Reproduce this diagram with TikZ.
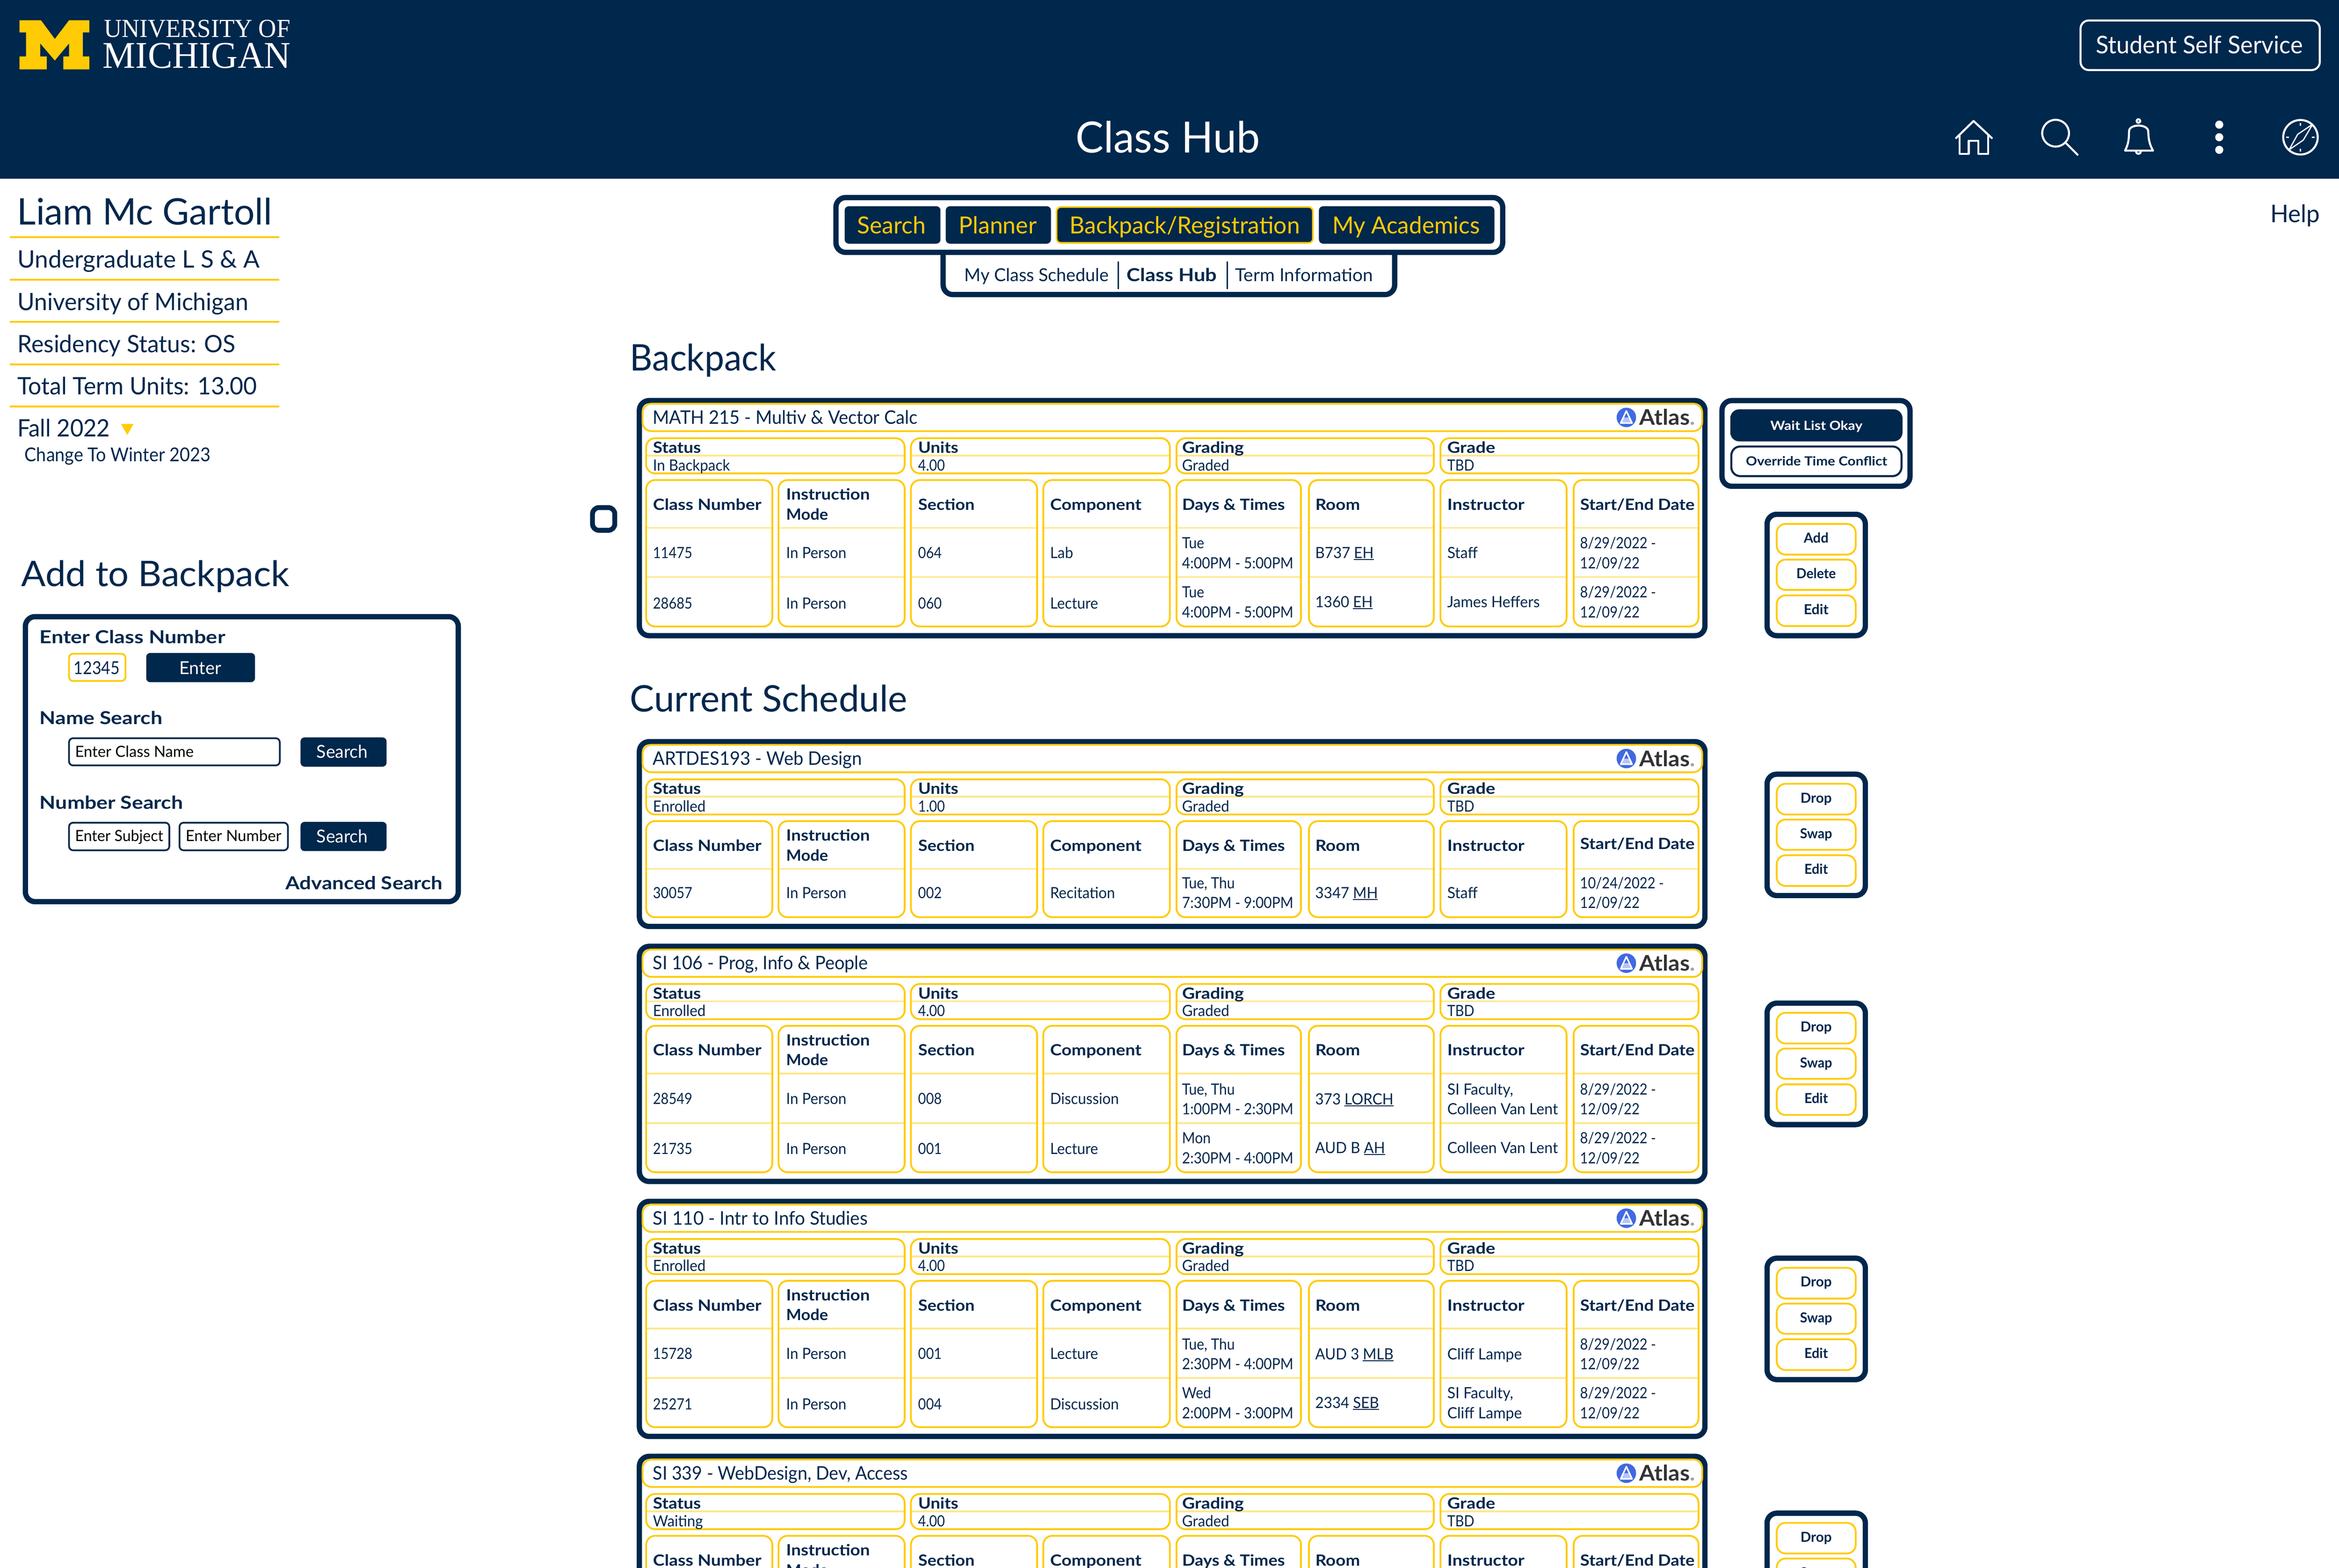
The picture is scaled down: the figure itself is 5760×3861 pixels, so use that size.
\documentclass[tikz,border=0pt]{standalone}
\usepackage{fontspec}
\usepackage{graphicx}
\setmainfont{Lato}
\newfontfamily\seriflogo{Liberation Serif}
\definecolor{navy}{HTML}{00274C}
\definecolor{maize}{HTML}{FFCB05}
\definecolor{palem}{HTML}{FFE78A}
\definecolor{atlasblue}{HTML}{4169E1}
\definecolor{atlaslight}{HTML}{B4C6F5}
\definecolor{atlasdark}{HTML}{333333}
\definecolor{atlasgrey}{HTML}{A0A4A8}
\newcount\nc
\newsavebox\fb
\newcommand\fitbox[3]{\sbox\fb{\fontsize{#2}{#2}\selectfont #3}\pgfmathparse{(#1*0.1)/(\wd\fb)}\edef\myr{\pgfmathresult}\scalebox{\myr}[1]{\usebox\fb}}
% x, y(baseline), width px, size pt, colour, text
\newcommand\FT[6]{\global\advance\nc by 1\relax\node[anchor=base west,inner sep=0pt,text=#5] (n\the\nc) at ({#1-0.5*#4},{#2}) {\fitbox{#3}{#4}{#6}};}
\def\cellx{0.88}
\def\cellw{0.95}
\def\cellt{0.91}
\def\cellsz{3.8}
\newcommand\DT[4][\cellx]{\global\advance\nc by 1\relax\node[anchor=base west,inner sep=0pt,text=navy] (n\the\nc) at ({#2-2},{#3}) {\fontsize{\cellsz}{\cellsz}\selectfont\scalebox{#1}[1]{#4}};}
\newcommand\ul[1]{\setbox0\hbox{#1}\rlap{\rule[-0.42pt]{\wd0}{0.24pt}}\box0}
\newcommand\yb[4]{\draw[ybox] ({#1+2.2},{#2+2.2}) rectangle ({#3-2.2},{#4-2.2});}
\newcommand\nb[4]{\draw[nbox] ({#1+6.5},{#2+6.5}) rectangle ({#3-6.5},{#4-6.5});}
\def\sdoff{0}
\newcommand\cardframe[3]{%
  \nb{1568}{#1}{4205}{#1+#2}
  \yb{1580}{#1+12}{4194}{#1+84}
  \foreach \a/\b in {1589/2230,2241/2883,2895/3533,3545/4185}{
    \draw[dvline] (\a+3,{#1+142}) -- (\b-3,{#1+142});
    \yb{\a}{#1+97}{\b}{#1+188}
  }
  \foreach \a/\b in {1589/1904,1915/2230,2241/2556,2567/2883,2895/3206,3221/3533,3545/3860,3873/4185}{
    \foreach \d in {#3}{\draw[dvline] (\a+3,{#1+\d}) -- (\b-3,{#1+\d});}
    \yb{\a}{#1+200}{\b}{#1+#2-27}
  }
  % atlas mark
  \fill[atlasblue] (4005,{#1+48}) circle (2.4pt);
  \fill[atlaslight] (3993,{#1+61}) -- (4017,{#1+61}) -- (4011,{#1+48}) -- (3999,{#1+48}) -- cycle;
  \draw[white,line width=0.38pt,line join=round] (4005,{#1+32}) -- (3991,{#1+62}) -- (4019,{#1+62}) -- cycle;
  \FT{4038}{#1+67}{137}{5.3}{atlasdark}{\bfseries Atlas\textcolor{atlasgrey}{.}}
}
\newcommand\cardhead[7]{%
  \FT{1608}{#1+64}{#3}{4.6}{navy}{#2}
  \FT{1608}{#1+136}{118}{3.8}{navy}{\bfseries Status}
  \FT{2261}{#1+136}{99}{3.8}{navy}{\bfseries Units}
  \FT{2911}{#1+136}{152}{3.8}{navy}{\bfseries Grading}
  \FT{3564}{#1+136}{118}{3.8}{navy}{\bfseries Grade}
  \DT[\cellw]{1608}{#1+179}{#4}
  \DT{2261}{#1+179}{#5}
  \DT[\cellw]{2911}{#1+179}{#6}
  \DT{3564}{#1+179}{#7}
  \FT{1608}{#1+276}{267}{3.8}{navy}{\bfseries Class Number}
  \FT{1936}{#1+251}{206}{3.8}{navy}{\bfseries Instruction}
  \FT{1936}{#1+300}{103}{3.8}{navy}{\bfseries Mode}
  \FT{2261}{#1+276}{139}{3.8}{navy}{\bfseries Section}
  \FT{2586}{#1+276}{225}{3.8}{navy}{\bfseries Component}
  \FT{2911}{#1+276}{253}{3.8}{navy}{\bfseries Days \& Times}
  \FT{3239}{#1+276}{110}{3.8}{navy}{\bfseries Room}
  \FT{3564}{#1+276}{190}{3.8}{navy}{\bfseries Instructor}
  \FT{3891}{#1+276+\sdoff}{282}{3.8}{navy}{\bfseries Start/End Date}
}
\newcommand\rowA[5]{%
  \DT{1608}{#1}{#2}
  \DT[\cellw]{1936}{#1}{#3}
  \DT{2261}{#1}{#4}
  \DT[\cellw]{2586}{#1}{#5}
}
% Y, days1, days2, room, building, instr1, instr2, date1, date2
\newcommand\rowB[9]{%
  \DT[\cellt]{2911}{#1-24}{#2}
  \DT[\cellt]{2911}{#1+25}{#3}
  \DT[\cellw]{3239}{#1}{#4 \ul{#5}}
  \if\relax\detokenize{#7}\relax
    \DT[0.97]{3564}{#1}{#6}
  \else
    \DT[0.97]{3564}{#1-24}{#6}
    \DT[0.97]{3564}{#1+25}{#7}
  \fi
  \DT{3891}{#1-24}{#8}
  \DT{3891}{#1+25}{#9}
}
\newcommand\sidebox[7]{%
  \nb{4345}{#1}{4600}{#1+312}
  \yb{4373}{#1+28}{4572}{#1+108}
  \yb{4373}{#1+116}{4572}{#1+195}
  \yb{4373}{#1+204}{4572}{#1+284}
  \FT{4472-#3/2}{#1+77}{#3}{3.4}{navy}{\bfseries #2}
  \FT{4472-#5/2}{#1+165}{#5}{3.4}{navy}{\bfseries #4}
  \FT{4472-#7/2}{#1+253}{#7}{3.4}{navy}{\bfseries #6}
}
\tikzset{
  ybox/.style={draw=maize,line width=0.44pt,rounded corners=2.2pt},
  nbox/.style={draw=navy,line width=1.3pt,rounded corners=2.4pt,fill=white},
  dvline/.style={draw=palem,line width=0.42pt},
  leftrule/.style={draw=maize,line width=0.45pt},
  navybtn/.style={fill=navy,rounded corners=1pt},
  inputbox/.style={draw=navy,line width=0.42pt,rounded corners=1pt},
  iconline/.style={draw=white,line width=0.5pt,line join=round,line cap=round}
}
\begin{document}
\begin{tikzpicture}[x=0.1pt,y=-0.1pt]
\path[use as bounding box,clip] (0,0) rectangle (5760,3861);
\fill[white] (0,0) rectangle (5760,3861);
% header
\fill[navy] (0,0) rectangle (5760,440);
\fill[maize] (48,50) -- (101,50) -- (135,96) -- (170,50) -- (220,50) -- (220,80) -- (204,80) -- (204,139) -- (220,139) -- (220,171) -- (156,171) -- (156,139) -- (170,139) -- (170,107) -- (135,149) -- (99,107) -- (99,139) -- (115,139) -- (115,171) -- (48,171) -- (48,139) -- (64,139) -- (64,80) -- (48,80) -- cycle;
\FT{257}{92}{459}{6.4}{white}{\seriflogo UNIVERSITY OF}
\FT{256}{168}{463}{9.3}{white}{\seriflogo MICHIGAN}
\FT{2652}{376}{454}{10.6}{white}{Class Hub}
\draw[draw=white,line width=0.5pt,rounded corners=2pt] (5123.5,50.5) rectangle (5712.5,172.5);
\FT{5162}{132}{510}{6}{white}{Student Self Service}
% header icons
\draw[iconline] (4817,340) -- (4860,298) -- (4905,340);
\draw[iconline] (4826,332) -- (4826,379) -- (4848,379) -- (4848,347) -- (4872,347) -- (4872,379) -- (4896,379) -- (4896,332);
\draw[iconline] (5062,328) circle (3.3pt);
\draw[iconline] (5088,353) -- (5116,381);
\draw[iconline] (5266,298) circle (0.45pt);
\draw[iconline] (5233,371) .. controls (5244,350) and (5242,335) .. (5243,322) .. controls (5245,305) and (5287,305) .. (5290,322) .. controls (5291,335) and (5290,350) .. (5302,371) -- cycle;
\draw[iconline] (5260,373) arc (180:360:0.6pt);
\fill[white] (5465,307) circle (1pt);
\fill[white] (5465,338) circle (1pt);
\fill[white] (5465,369) circle (1pt);
\draw[iconline] (5665,338) circle (4.25pt);
\draw[draw=white,line width=0.3pt,line join=round] (5695,306) -- (5672,345) -- (5637,369) -- (5658,331) -- cycle;
\draw[draw=white,line width=0.4pt] (5665,303) -- (5665,310) (5665,366) -- (5665,373) (5630,338) -- (5637,338) (5693,338) -- (5700,338);
% left column
\FT{45}{553}{627}{9}{navy}{Liam Mc Gartoll}
\FT{44}{660}{596}{5.9}{navy}{Undergraduate L S \& A}
\FT{44}{764}{569}{5.9}{navy}{University of Michigan}
\FT{44}{868}{537}{5.9}{navy}{Residency Status: OS}
\FT{44}{972}{590}{5.9}{navy}{Total Term Units: 13.00}
\FT{44}{1075}{228}{5.9}{navy}{Fall 2022}
\fill[maize] (298,1044) -- (329,1044) -- (313.5,1071) -- cycle;
\FT{61}{1136}{458}{4.7}{navy}{Change To Winter 2023}
\foreach \yy in {584,689,793,897,1001}{\draw[leftrule] (24,\yy) -- (688,\yy);}
% add to backpack
\FT{55}{1444}{660}{8.7}{navy}{Add to Backpack}
\nb{56}{1512}{1135}{2227}
\FT{98}{1584}{457}{4.4}{navy}{\bfseries Enter Class Number}
\draw[ybox,rounded corners=1pt] (170,1610) rectangle (309,1677);
\FT{182}{1661}{113}{4.4}{navy}{12345}
\fill[navybtn] (360,1608) rectangle (628,1680);
\FT{442}{1661}{103}{4.4}{white}{Enter}
\FT{98}{1784}{302}{4.4}{navy}{\bfseries Name Search}
\draw[inputbox] (170,1818) rectangle (689,1885);
\FT{185}{1864}{292}{3.8}{black}{Enter Class Name}
\fill[navybtn] (740,1816) rectangle (952,1888);
\FT{780}{1867}{126}{4.4}{white}{Search}
\FT{98}{1992}{353}{4.4}{navy}{\bfseries Number Search}
\draw[inputbox] (170,2026) rectangle (417,2094);
\FT{185}{2072}{217}{3.8}{black}{Enter Subject}
\draw[inputbox] (442,2026) rectangle (709,2094);
\FT{457}{2072}{236}{3.8}{black}{Enter Number}
\fill[navybtn] (740,2024) rectangle (952,2096);
\FT{780}{2075}{126}{4.4}{white}{Search}
\FT{704}{2190}{386}{4.4}{navy}{\bfseries Advanced Search}
% tabs
\nb{2316}{590}{3441}{732}
\nb{2052}{480}{3707}{628}
\fill[navybtn] (2080,508) rectangle (2316,600);
\FT{2112}{575}{169}{5.8}{maize}{Search}
\fill[navybtn] (2329,508) rectangle (2588,600);
\FT{2362}{575}{192}{5.8}{maize}{Planner}
\draw[fill=navy,draw=maize,line width=0.4pt,rounded corners=1pt] (2602,510) rectangle (3233,598);
\FT{2635}{575}{567}{5.8}{maize}{Backpack/Registration}
\fill[navybtn] (3248,508) rectangle (3680,600);
\FT{3282}{575}{363}{5.8}{maize}{My Academics}
\FT{2375}{693}{356}{4.4}{navy}{My Class Schedule}
\draw[navy,line width=0.28pt] (2754,644) -- (2754,712);
\FT{2775}{693}{222}{4.4}{navy}{\bfseries Class Hub}
\draw[navy,line width=0.28pt] (3022,644) -- (3022,712);
\FT{3042}{693}{339}{4.4}{navy}{Term Information}
\FT{5592}{548}{122}{6}{navy}{Help}
% headings
\FT{1554}{913}{360}{9}{navy}{Backpack}
\FT{1554}{1753}{683}{9}{navy}{Current Schedule}
% backpack check box
\draw[draw=navy,line width=1.2pt,rounded corners=1.6pt] (1459,1250) rectangle (1514,1306);
% backpack side boxes
\nb{4234}{980}{4710}{1204}
\fill[navy,rounded corners=2.2pt] (4261,1008) rectangle (4685,1087);
\FT{4359}{1059}{227}{3.1}{white}{\bfseries Wait List Okay}
\draw[draw=navy,line width=0.5pt,rounded corners=2.2pt] (4263.5,1099.5) rectangle (4682.5,1172.5);
\FT{4299}{1147}{348}{3.1}{navy}{\bfseries Override Time Conflict}
\sidebox{1260}{Add}{61}{Delete}{97}{Edit}{61}
% backpack card
\cardframe{980}{592}{320,441}
\cardhead{980}{MATH 215 - Multiv \& Vector Calc}{652}{In Backpack}{4.00}{Graded}{TBD}
\rowA{1375}{11475}{In Person}{064}{Lab}
\rowB{1375}{Tue}{4:00PM - 5:00PM}{B737}{EH}{Staff}{}{8/29/2022 -}{12/09/22}
\rowA{1499}{28685}{In Person}{060}{Lecture}
\rowB{1496}{Tue}{4:00PM - 5:00PM}{1360}{EH}{James Heffers}{}{8/29/2022 -}{12/09/22}
% ARTDES
\def\sdoff{-5}
\cardframe{1820}{468}{320}
\cardhead{1820}{ARTDES193 - Web Design}{515}{Enrolled}{1.00}{Graded}{TBD}
\def\sdoff{0}
\rowA{2212}{30057}{In Person}{002}{Recitation}
\rowB{2212}{Tue, Thu}{7:30PM - 9:00PM}{3347}{MH}{Staff}{}{10/24/2022 -}{12/09/22}
\sidebox{1900}{Drop}{77}{Swap}{79}{Edit}{58}
% SI 106
\cardframe{2324}{592}{320,442}
\cardhead{2324}{SI 106 - Prog, Info \& People}{530}{Enrolled}{4.00}{Graded}{TBD}
\rowA{2719}{28549}{In Person}{008}{Discussion}
\rowB{2720}{Tue, Thu}{1:00PM - 2:30PM}{373}{LORCH}{SI Faculty,}{Colleen Van Lent}{8/29/2022 -}{12/09/22}
\rowA{2843}{21735}{In Person}{001}{Lecture}
\rowB{2840}{Mon}{2:30PM - 4:00PM}{AUD B}{AH}{Colleen Van Lent}{}{8/29/2022 -}{12/09/22}
\sidebox{2464}{Drop}{77}{Swap}{79}{Edit}{58}
% SI 110
\cardframe{2952}{592}{320,442}
\cardhead{2952}{SI 110 - Intr to Info Studies}{529}{Enrolled}{4.00}{Graded}{TBD}
\rowA{3347}{15728}{In Person}{001}{Lecture}
\rowB{3348}{Tue, Thu}{2:30PM - 4:00PM}{AUD 3}{MLB}{Cliff Lampe}{}{8/29/2022 -}{12/09/22}
\rowA{3471}{25271}{In Person}{004}{Discussion}
\rowB{3468}{Wed}{2:00PM - 3:00PM}{2334}{SEB}{SI Faculty,}{Cliff Lampe}{8/29/2022 -}{12/09/22}
\sidebox{3092}{Drop}{77}{Swap}{79}{Edit}{58}
% SI 339
\cardframe{3580}{592}{320,442}
\cardhead{3580}{SI 339 - WebDesign, Dev, Access}{628}{Waiting}{4.00}{Graded}{TBD}
\sidebox{3720}{Drop}{77}{Swap}{79}{Edit}{58}
\end{tikzpicture}
\end{document}
